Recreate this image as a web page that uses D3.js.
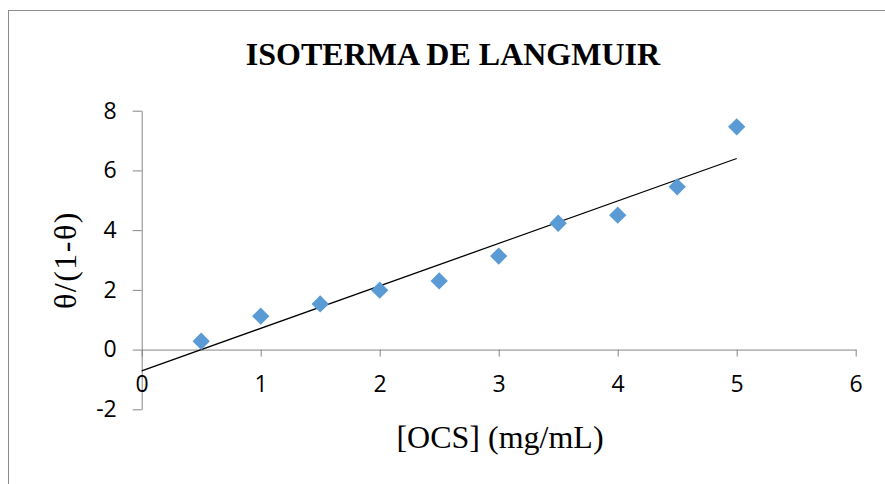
<!DOCTYPE html>
<html>
<head>
<meta charset="utf-8">
<script src="https://cdn.jsdelivr.net/npm/d3@7"></script>
<style>
  body { margin: 0; background: #fff; }
  svg { display: block; }
</style>
</head>
<body>
<svg id="chart" width="885" height="484"></svg>
<script>
var concentration = [0.5, 1, 1.5, 2, 2.5, 3, 3.5, 4, 4.5, 5]
var thetaRatio = [0.28, 1.12, 1.53, 1.99, 2.30, 3.13, 4.23, 4.50, 5.45, 7.46]
var xTicks = [0, 1, 2, 3, 4, 5, 6]
var yTicks = [-2, 0, 2, 4, 6, 8]

var svg = d3.select("#chart")
var axisColor = "#868686"
var serif = "'Liberation Serif', 'Times New Roman', serif"

var x = d3.scaleLinear().domain([0, 6]).range([141.7, 855.7])
var y = d3.scaleLinear().domain([-2, 8]).range([409.3, 110.7])

// chart frame (only top/left edges show)
svg.append("rect")
    .attr("x", 8.5).attr("y", 10.5)
    .attr("width", 1000).attr("height", 600)
    .attr("fill", "none")
    .attr("stroke", "#8c8c8c")

svg.append("text")
    .attr("x", 453).attr("y", 65)
    .attr("text-anchor", "middle")
    .style("font-family", serif)
    .style("font-weight", "bold")
    .style("font-size", "32px")
    .text("ISOTERMA DE LANGMUIR")

// axes
var plain = function(d){ return String(d) }
var yAxis = svg.append("g")
    .attr("transform", "translate(" + x(0) + ",0)")
    .call(d3.axisLeft(y).tickValues(yTicks).tickFormat(plain).tickSize(9).tickPadding(16).tickSizeOuter(0))
var xAxis = svg.append("g")
    .attr("transform", "translate(0," + y(0) + ")")
    .call(d3.axisBottom(x).tickValues(xTicks).tickFormat(plain).tickSize(7).tickPadding(19).tickSizeOuter(0))

;[xAxis, yAxis].forEach(function(g){
  g.select(".domain").attr("stroke", axisColor)
  g.selectAll(".tick line").attr("stroke", axisColor)
  g.selectAll(".tick text")
      .attr("fill", "#000")
      .style("font-family", "'Open Sans', 'Noto Sans', sans-serif")
      .style("font-size", "23px")
})

// trendline (least squares)
var mx = d3.mean(concentration), my = d3.mean(thetaRatio)
var sxy = d3.sum(concentration, function(c, i){ return (c - mx) * (thetaRatio[i] - my) })
var sxx = d3.sum(concentration, function(c){ return (c - mx) * (c - mx) })
var slope = sxy / sxx, intercept = my - slope * mx

svg.append("line")
    .attr("x1", x(0)).attr("y1", y(intercept))
    .attr("x2", x(5)).attr("y2", y(intercept + slope * 5))
    .attr("stroke", "#000")
    .attr("stroke-width", 1.3)

// points
var diamond = d3.symbol().type(d3.symbolSquare).size(150)
svg.append("g").selectAll("path")
    .data(concentration)
  .enter().append("path")
    .attr("d", diamond)
    .attr("transform", function(d, i){ return "translate(" + x(d) + "," + y(thetaRatio[i]) + ") rotate(45)" })
    .attr("fill", "#5b9bd5")

// axis titles
svg.append("text")
    .attr("transform", "translate(76,260) rotate(-90)")
    .attr("text-anchor", "middle")
    .style("font-family", serif)
    .style("font-size", "32px")
    .style("letter-spacing", "1.5px")
    .text("θ/(1-θ)")

svg.append("text")
    .attr("x", 500).attr("y", 448)
    .attr("text-anchor", "middle")
    .style("font-family", serif)
    .style("font-size", "32px")
    .text("[OCS] (mg/mL)")
</script>
</body>
</html>
